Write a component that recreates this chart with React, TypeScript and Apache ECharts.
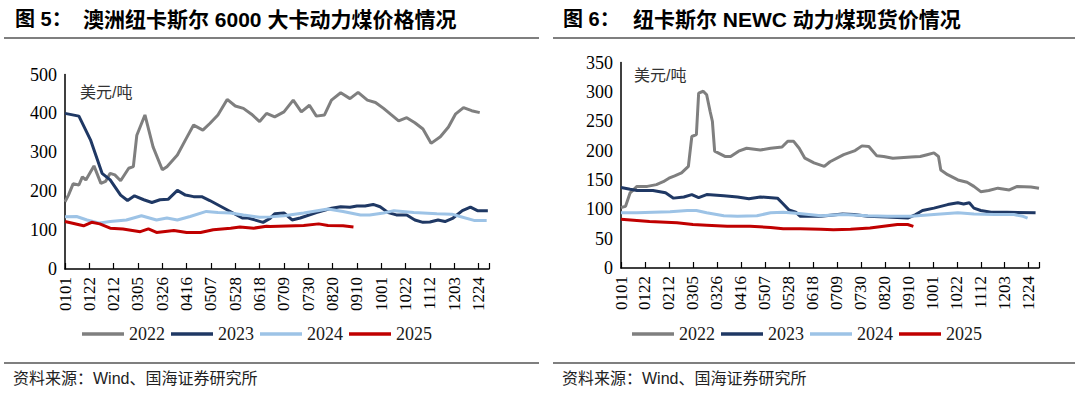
import React, { useEffect, useRef } from 'react';
import * as echarts from 'echarts';

// x labels every 21 days (day-of-year axis, 0 = 0101)
const xTickLabels = ['0101', '0122', '0212', '0305', '0326', '0416', '0507', '0528', '0618', '0709', '0730', '0820', '0910', '1001', '1022', '1112', '1203', '1224'];
const years = ['2022', '2023', '2024', '2025'];
const yearColors = ['#7f7f7f', '#1f3864', '#9dc3e6', '#c00000'];

// Left chart: 澳洲纽卡斯尔 6000 大卡动力煤价格 [day-of-year, USD/t]
const aus6000_2022: [number, number][] = [
  [0, 173], [3, 190], [7, 219], [12, 216], [15, 237], [18, 229], [25, 265], [31, 220], [35, 225], [39, 246], [43, 242], [48, 227],
  [55, 259], [59, 263], [62, 344], [69, 396], [76, 314], [84, 255], [88, 263], [97, 293], [104, 332], [111, 370], [119, 357],
  [125, 374], [132, 396], [140, 436], [147, 419], [154, 413], [161, 398], [168, 379], [174, 400], [181, 391], [189, 404],
  [197, 434], [204, 404], [211, 421], [217, 393], [224, 396], [230, 434], [238, 453], [246, 438], [253, 454], [261, 434],
  [268, 428], [275, 413], [281, 398], [288, 381], [295, 389], [302, 376], [309, 360], [316, 323], [324, 340], [331, 365],
  [337, 398], [344, 415], [351, 407], [358, 402]
];
const aus6000_2023: [number, number][] = [
  [0, 400], [12, 393], [22, 332], [32, 246], [39, 229], [48, 190], [54, 176], [60, 188], [68, 178], [75, 171], [82, 178],
  [89, 179], [97, 202], [104, 190], [111, 186], [118, 186], [125, 176], [145, 144], [153, 131], [158, 131], [171, 120],
  [177, 130], [181, 142], [189, 144], [196, 126], [203, 131], [217, 145], [230, 156], [238, 160], [246, 159], [252, 162],
  [259, 162], [266, 166], [272, 160], [279, 145], [286, 139], [295, 139], [302, 126], [309, 120], [315, 121], [322, 126],
  [328, 122], [335, 131], [343, 150], [350, 159], [356, 150], [365, 150]
];
const aus6000_2024: [number, number][] = [
  [0, 134], [10, 135], [19, 126], [30, 118], [39, 122], [53, 126], [66, 137], [79, 126], [88, 131], [97, 126], [108, 135],
  [122, 148], [132, 145], [143, 144], [154, 139], [168, 133], [177, 134], [189, 137], [206, 144], [227, 154], [240, 148],
  [255, 139], [263, 139], [275, 144], [284, 150], [301, 145], [321, 142], [334, 141], [341, 135], [353, 125], [364, 125]
];
const aus6000_2025: [number, number][] = [
  [0, 122], [16, 111], [23, 120], [30, 116], [39, 105], [50, 103], [65, 96], [72, 103], [79, 94], [94, 99], [105, 94],
  [117, 94], [128, 101], [143, 105], [151, 108], [163, 105], [174, 110], [177, 109], [206, 112], [219, 116], [227, 112],
  [240, 111], [249, 108]
];

// Right chart: 纽卡斯尔 NEWC 动力煤现货价 [day-of-year, USD/t]
const newc_2022: [number, number][] = [
  [0, 103], [4, 105], [8, 128], [14, 139], [23, 139], [31, 142], [37, 147], [42, 153], [47, 157], [53, 162], [59, 173],
  [62, 224], [66, 227], [68, 298], [72, 301], [75, 295], [78, 267], [80, 250], [82, 199], [85, 196], [91, 190], [96, 190],
  [103, 199], [110, 204], [122, 201], [131, 204], [141, 206], [146, 216], [151, 216], [156, 204], [161, 187], [169, 179],
  [178, 173], [183, 181], [195, 193], [205, 200], [211, 208], [217, 207], [224, 191], [230, 190], [238, 187], [254, 189],
  [262, 190], [268, 193], [274, 196], [278, 190], [280, 167], [286, 159], [295, 150], [303, 146], [309, 139], [315, 130],
  [322, 132], [330, 136], [340, 133], [347, 139], [359, 138], [366, 136]
];
const newc_2023: [number, number][] = [
  [0, 137], [8, 134], [14, 132], [28, 132], [39, 128], [46, 119], [55, 121], [62, 125], [68, 120], [75, 125], [90, 123],
  [102, 121], [112, 118], [122, 121], [137, 119], [141, 111], [147, 99], [153, 95], [157, 88], [175, 88], [194, 92],
  [204, 91], [216, 88], [233, 87], [251, 85], [258, 91], [264, 98], [274, 102], [286, 108], [295, 111], [300, 109],
  [305, 111], [309, 102], [315, 98], [324, 95], [338, 95], [363, 94]
];
const newc_2024: [number, number][] = [
  [0, 94], [14, 94], [28, 95], [43, 96], [58, 98], [66, 98], [75, 94], [90, 89], [102, 88], [119, 89], [131, 94],
  [142, 95], [156, 93], [175, 89], [195, 91], [216, 89], [233, 88], [254, 88], [274, 91], [295, 94], [309, 92],
  [327, 91], [344, 91], [352, 88], [356, 85]
];
const newc_2025: [number, number][] = [
  [0, 83], [25, 79], [49, 77], [63, 74], [75, 73], [93, 71], [113, 71], [131, 69], [142, 67], [157, 67], [175, 66],
  [186, 65], [201, 66], [218, 68], [230, 71], [242, 74], [251, 74], [256, 71]
];

const leftData = [aus6000_2022, aus6000_2023, aus6000_2024, aus6000_2025];
const rightData = [newc_2022, newc_2023, newc_2024, newc_2025];

const SERIF = '"Liberation Serif", "Times New Roman", serif';
const CJK = '"Liberation Sans", "Noto Sans CJK SC", sans-serif';

function buildOption() {
  const grids = [
    { left: 65, right: 591, top: 74.5, bottom: 126 },
    { left: 621, right: 41, top: 62.5, bottom: 127 },
  ];
  const hiddenSplit = { show: true, lineStyle: { color: 'transparent', width: 0 } };
  const mainX = (gridIndex: number) => ({
    type: 'value',
    gridIndex,
    position: 'bottom',
    min: 0,
    max: 366,
    interval: 21,
    splitLine: hiddenSplit,
    axisLine: { show: true, onZero: false, lineStyle: { color: 'black', width: 1.5 } },
    axisTick: { show: true, inside: true, length: 6, lineStyle: { color: 'black', width: 1.2 } },
    axisLabel: {
      rotate: 90,
      fontSize: 17,
      fontFamily: SERIF,
      color: 'black',
      formatter: (v: number) => (v % 21 === 0 ? xTickLabels[v / 21] ?? '' : ''),
    },
  });
  const yAx = (gridIndex: number, max: number, interval: number) => ({
    type: 'value',
    gridIndex,
    min: 0,
    max,
    interval,
    splitLine: hiddenSplit,
    axisLine: { show: true, lineStyle: { color: 'black', width: 1.5 } },
    axisTick: { show: true, length: 0, lineStyle: { color: 'transparent' } },
    axisLabel: { fontSize: 18, fontFamily: SERIF, color: 'black' },
  });

  const series: any[] = [];
  years.forEach((y, i) => {
    series.push({
      name: y, type: 'line', xAxisIndex: 0, yAxisIndex: 0, data: leftData[i],
      showSymbol: false, symbol: 'none', lineStyle: { width: 3, color: yearColors[i] }, itemStyle: { color: yearColors[i] },
    });
  });
  years.forEach((y, i) => {
    series.push({
      name: y, type: 'line', xAxisIndex: 1, yAxisIndex: 1, data: rightData[i],
      showSymbol: false, symbol: 'none', lineStyle: { width: 3, color: yearColors[i] }, itemStyle: { color: yearColors[i] },
    });
  });

  const legendBase = {
    data: years,
    icon: 'rect',
    itemWidth: 42,
    itemHeight: 3.5,
    itemGap: 6,
    top: 320,
    textStyle: { fontSize: 18, fontFamily: SERIF, color: '#1a1a1a' },
  };

  const hline = (x1: number, x2: number, y: number) => ({
    type: 'line', shape: { x1, y1: y, x2, y2: y }, style: { stroke: '#7f7f7f', lineWidth: 2 }, silent: true,
  });
  const txt = (x: number, y: number, text: string, font: string, fill = '#000') => ({
    type: 'text', style: { x, y, text, font, fill, verticalAlign: 'middle', align: 'left' }, silent: true,
  });

  return {
    animation: false,
    backgroundColor: '#ffffff',
    grid: grids,
    xAxis: [mainX(0), mainX(1)],
    yAxis: [yAx(0, 500, 100), yAx(1, 350, 50)],
    legend: [
      { ...legendBase, left: 77 },
      { ...legendBase, left: 627 },
    ],
    series,
    graphic: [
      txt(15, 19, '图 5：', `bold 20px ${CJK}`),
      txt(83, 19, '澳洲纽卡斯尔 6000 大卡动力煤价格情况', `bold 21px ${CJK}`),
      txt(563, 19, '图 6：', `bold 20px ${CJK}`),
      txt(633, 19, '纽卡斯尔 NEWC 动力煤现货价情况', `bold 21px ${CJK}`),
      hline(4, 539, 38),
      hline(553, 1075, 38),
      hline(4, 539, 363),
      hline(553, 1075, 363),
      txt(80, 92, '美元/吨', `16px ${CJK}`, '#333'),
      txt(634, 75, '美元/吨', `16px ${CJK}`, '#333'),
      txt(13, 378, '资料来源：Wind、国海证券研究所', `16px ${CJK}`, '#222'),
      txt(562, 378, '资料来源：Wind、国海证券研究所', `16px ${CJK}`, '#222'),
    ],
  };
}

export default function App() {
  const ref = useRef<HTMLDivElement>(null);
  useEffect(() => {
    if (!ref.current) return;
    const chart = echarts.init(ref.current, null, { renderer: 'svg' });
    chart.setOption(buildOption() as any);
    return () => chart.dispose();
  }, []);
  return (
    <div
      ref={ref}
      style={{ position: 'absolute', left: 0, top: 0, width: 1080, height: 395, background: '#fff' }}
    />
  );
}
